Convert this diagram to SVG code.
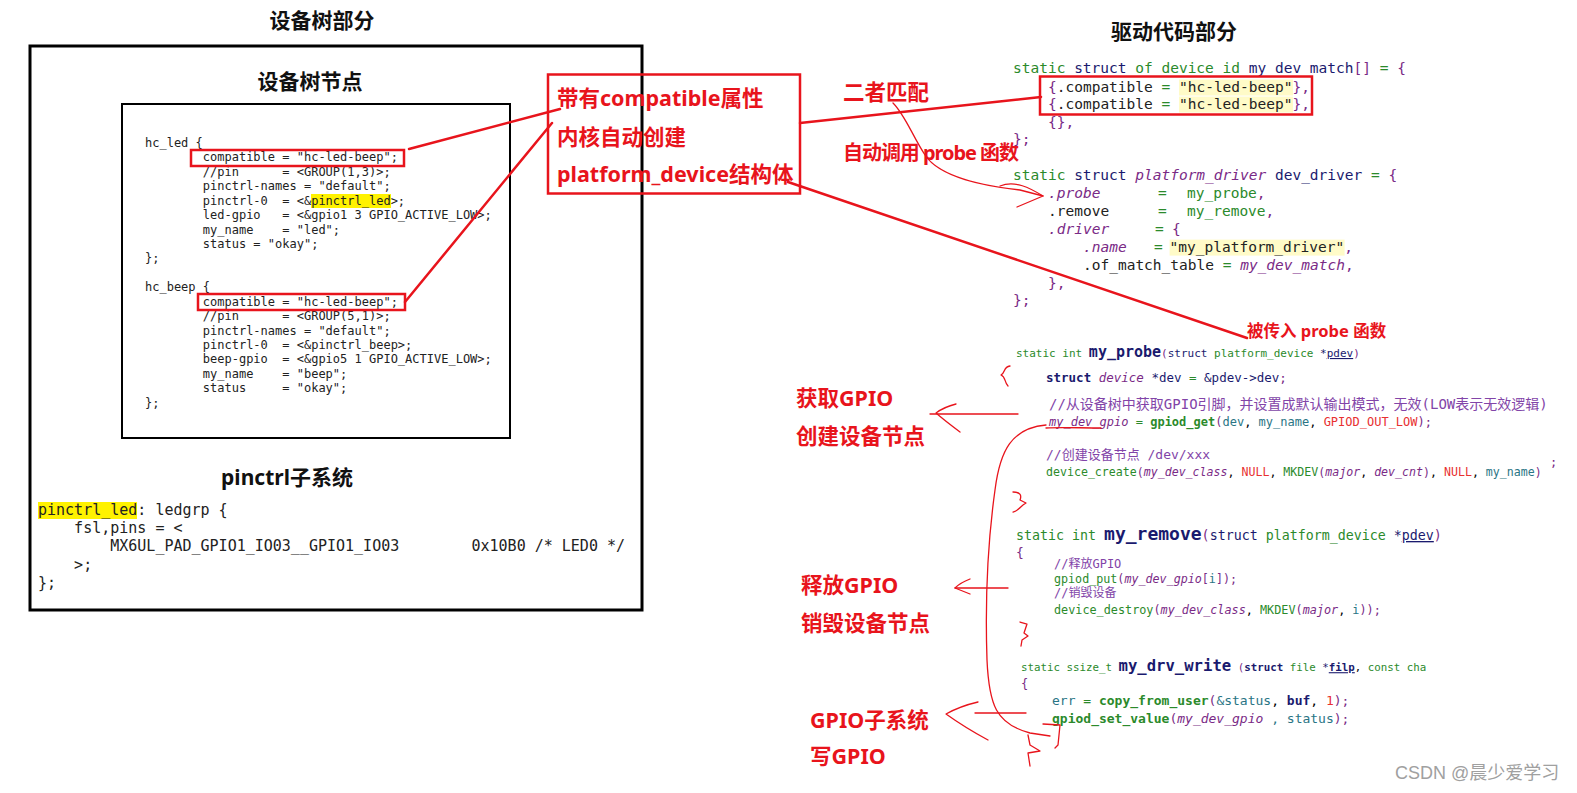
<svg xmlns="http://www.w3.org/2000/svg" width="1577" height="793" viewBox="0 0 1577 793">
<style>
.bg{fill:#fff}
.title{font-family:"Noto Sans","Noto Sans CJK SC",sans-serif;font-weight:bold;font-size:21px;fill:#111}
.lbl{font-family:"Noto Sans","Noto Sans CJK SC",sans-serif;font-weight:bold;font-size:21.5px;fill:#e8141c}
.mono{font-family:"DejaVu Sans Mono","Noto Sans CJK SC",monospace;white-space:pre}
.dt{font-size:12px;fill:#222}
.pc{font-size:15px;fill:#222}
.k{fill:#2b8a2b}
.n{fill:#1a1a6e}
.p{fill:#7a2a86}
.pi{fill:#7a2a86;font-style:italic}
.t{fill:#2a7585}
.r{fill:#e83030}
.c{fill:#8244a8}
.d{fill:#222}
.b{font-weight:bold}
.u{text-decoration:underline}
.box{fill:none;stroke:#000}
.rbox{fill:none;stroke:#e8141c;stroke-width:2.5}
.hl{fill:#fff200}
.hs{fill:#fffbc8}
.red{fill:none;stroke:#e8141c;stroke-width:2.5;stroke-linecap:round;stroke-linejoin:round}
.thin{fill:none;stroke:#e8141c;stroke-width:1.3;stroke-linecap:round;stroke-linejoin:round}
</style>
<rect class="bg" x="0" y="0" width="1577" height="793"/>

<g id="title-dt">
<text class="title" x="322" y="28" text-anchor="middle">设备树部分</text>
</g>

<g id="dt-outer">
<rect class="box" x="30" y="46" width="612" height="564" stroke-width="3"/>
<text class="title" x="310" y="88.5" text-anchor="middle">设备树节点</text>
</g>

<g id="dt-node">
<rect class="box" x="122" y="104" width="388" height="334" stroke-width="2"/>
<rect class="hl" x="311" y="194" width="80" height="14"/>
<text class="mono dt" x="145" y="147">hc_led {</text>
<text class="mono dt" x="145" y="161.4">        compatible = "hc-led-beep";</text>
<text class="mono dt" x="145" y="175.8">        //pin      = &lt;GROUP(1,3)&gt;;</text>
<text class="mono dt" x="145" y="190.3">        pinctrl-names = "default";</text>
<text class="mono dt" x="145" y="204.7">        pinctrl-0  = &lt;&amp;pinctrl_led&gt;;</text>
<text class="mono dt" x="145" y="219.1">        led-gpio   = &lt;&amp;gpio1 3 GPIO_ACTIVE_LOW&gt;;</text>
<text class="mono dt" x="145" y="233.5">        my_name    = "led";</text>
<text class="mono dt" x="145" y="247.9">        status = "okay";</text>
<text class="mono dt" x="145" y="262.4">};</text>
<text class="mono dt" x="145" y="291.2">hc_beep {</text>
<text class="mono dt" x="145" y="305.6">        compatible = "hc-led-beep";</text>
<text class="mono dt" x="145" y="320">        //pin      = &lt;GROUP(5,1)&gt;;</text>
<text class="mono dt" x="145" y="334.5">        pinctrl-names = "default";</text>
<text class="mono dt" x="145" y="348.9">        pinctrl-0  = &lt;&amp;pinctrl_beep&gt;;</text>
<text class="mono dt" x="145" y="363.3">        beep-gpio  = &lt;&amp;gpio5 1 GPIO_ACTIVE_LOW&gt;;</text>
<text class="mono dt" x="145" y="377.7">        my_name    = "beep";</text>
<text class="mono dt" x="145" y="392.1">        status     = "okay";</text>
<text class="mono dt" x="145" y="406.6">};</text>
<rect class="rbox" x="191" y="150" width="213" height="16" stroke-width="2"/>
<rect class="rbox" x="198" y="294" width="207" height="16" stroke-width="2"/>
</g>

<g id="pinctrl">
<text class="title" x="287" y="485" text-anchor="middle">pinctrl子系统</text>
<rect class="hl" x="38" y="502" width="99" height="17"/>
<text class="mono pc" x="38" y="515">pinctrl_led: ledgrp {</text>
<text class="mono pc" x="38" y="533">    fsl,pins = &lt;</text>
<text class="mono pc" x="38" y="551">        MX6UL_PAD_GPIO1_IO03__GPIO1_IO03        0x10B0 /* LED0 */</text>
<text class="mono pc" x="38" y="570">    &gt;;</text>
<text class="mono pc" x="38" y="588">};</text>
</g>

<g id="callout">
<rect class="rbox" x="548" y="74.5" width="252" height="119"/>
<text class="lbl" x="557" y="106">带有compatible属性</text>
<text class="lbl" x="557" y="144.5">内核自动创建</text>
<text class="lbl" x="557" y="181.6">platform_device结构体</text>
</g>

<g id="title-drv">
<text class="title" x="1111" y="39">驱动代码部分</text>
</g>

<g id="match-code" class="mono" font-size="14.5">
<rect class="hs" x="1179" y="79.5" width="114" height="16"/>
<rect class="hs" x="1179" y="96.6" width="114" height="16"/>
<text x="1013" y="73.4"><tspan class="k">static</tspan> <tspan class="n">struct</tspan> <tspan class="k">of device id</tspan> <tspan class="n">my dev match</tspan><tspan class="p">[]</tspan> <tspan class="k">=</tspan> <tspan class="p">{</tspan></text>
<text x="1048" y="91.5"><tspan class="p">{</tspan><tspan class="d">.compatible</tspan> <tspan class="k">=</tspan> <tspan class="d">"hc-led-beep"</tspan><tspan class="p">},</tspan></text>
<text x="1048" y="108.6"><tspan class="p">{</tspan><tspan class="d">.compatible</tspan> <tspan class="k">=</tspan> <tspan class="d">"hc-led-beep"</tspan><tspan class="p">},</tspan></text>
<text x="1048" y="126.8" class="p">{},</text>
<text x="1013" y="143.9" class="p">};</text>
<rect class="rbox" x="1040" y="76.5" width="272" height="38"/>
</g>

<g id="driver-code" class="mono" font-size="14.5">
<rect class="hs" x="1169.6" y="239.6" width="175" height="16"/>
<text x="1013" y="180"><tspan class="k">static</tspan> <tspan class="n">struct</tspan> <tspan class="pi">platform_driver</tspan> <tspan class="n">dev_driver</tspan> <tspan class="k">=</tspan> <tspan class="p">{</tspan></text>
<text y="198.2"><tspan x="1048" class="pi">.probe</tspan><tspan x="1158" class="k">=</tspan><tspan x="1187" class="k">my_probe</tspan><tspan class="p">,</tspan></text>
<text y="216.3"><tspan x="1048" class="d">.remove</tspan><tspan x="1158" class="k">=</tspan><tspan x="1187" class="k">my_remove</tspan><tspan class="p">,</tspan></text>
<text y="234.4"><tspan x="1048" class="pi">.driver</tspan><tspan x="1155" class="k">=</tspan><tspan x="1172" class="p">{</tspan></text>
<text y="251.6"><tspan x="1083" class="pi">.name</tspan><tspan x="1154" class="k">=</tspan><tspan x="1169.6" class="d">"my_platform_driver"</tspan><tspan class="p">,</tspan></text>
<text x="1083" y="269.7"><tspan class="d">.of_match_table</tspan> <tspan class="k">=</tspan> <tspan class="pi">my_dev_match</tspan><tspan class="p">,</tspan></text>
<text x="1048" y="287.8" class="p">},</text>
<text x="1013" y="304.9" class="p">};</text>
</g>

<g id="probe-code" class="mono">
<text x="1016" y="357" font-size="11"><tspan class="k">static int </tspan><tspan class="n b" font-size="15">my_probe</tspan><tspan class="p">(</tspan><tspan class="n">struct </tspan><tspan class="k">platform_device </tspan><tspan class="n">*</tspan><tspan class="n u">pdev</tspan><tspan class="p">)</tspan></text>
<text x="1046" y="382" font-size="12.5"><tspan class="n b">struct</tspan> <tspan class="pi">device</tspan> <tspan class="n">*dev</tspan> <tspan class="k">=</tspan> <tspan class="n">&amp;pdev-&gt;dev</tspan><tspan class="p">;</tspan></text>
<text x="1049" y="408.5" font-size="14" class="c">//从设备树中获取GPIO引脚，并设置成默认输出模式，无效(LOW表示无效逻辑)</text>
<text x="1049" y="425.6" font-size="12"><tspan class="pi">my_dev_gpio</tspan> <tspan class="k">=</tspan> <tspan class="k b">gpiod_get</tspan><tspan class="p">(</tspan><tspan class="t">dev</tspan>, <tspan class="t">my_name</tspan>, <tspan class="r">GPIOD_OUT_LOW</tspan><tspan class="p">);</tspan></text>
<text x="1046" y="458.7" font-size="13" class="c">//创建设备节点 /dev/xxx</text>
<text x="1046" y="476" font-size="11.6"><tspan class="k">device_create</tspan><tspan class="p">(</tspan><tspan class="pi">my_dev_class</tspan>, <tspan class="r">NULL</tspan>, <tspan class="k">MKDEV</tspan><tspan class="p">(</tspan><tspan class="pi">major</tspan>, <tspan class="pi">dev_cnt</tspan><tspan class="p">)</tspan>, <tspan class="r">NULL</tspan>, <tspan class="t">my_name</tspan><tspan class="p">)</tspan></text>
<text x="1550" y="466" font-size="12" class="p">;</text>
</g>

<g id="remove-code" class="mono">
<text x="1016" y="540" font-size="13.3"><tspan class="k">static int </tspan><tspan class="n b" font-size="18">my_remove</tspan><tspan class="p">(</tspan><tspan class="n">struct </tspan><tspan class="k">platform_device </tspan><tspan class="n">*</tspan><tspan class="n u">pdev</tspan><tspan class="p">)</tspan></text>
<text x="1016" y="556.5" font-size="13" class="p">{</text>
<text x="1054" y="567.5" font-size="12" class="c">//释放GPIO</text>
<text x="1054" y="582.6" font-size="11.7"><tspan class="k">gpiod_put</tspan><tspan class="p">(</tspan><tspan class="pi">my_dev_gpio</tspan><tspan class="p">[</tspan><tspan class="t">i</tspan><tspan class="p">]);</tspan></text>
<text x="1054" y="596.7" font-size="12" class="c">//销毁设备</text>
<text x="1054" y="613.8" font-size="11.8"><tspan class="k">device_destroy</tspan><tspan class="p">(</tspan><tspan class="pi">my_dev_class</tspan>, <tspan class="k">MKDEV</tspan><tspan class="p">(</tspan><tspan class="pi">major</tspan>, <tspan class="t">i</tspan><tspan class="p">));</tspan></text>
</g>

<g id="write-code" class="mono">
<text x="1021" y="671.2" font-size="10.8"><tspan class="k">static ssize_t </tspan><tspan class="n b" font-size="15.6">my_drv_write</tspan> <tspan class="p">(</tspan><tspan class="n b">struct </tspan><tspan class="k">file </tspan><tspan class="n">*</tspan><tspan class="n b u">filp</tspan>, <tspan class="k">const cha</tspan></text>
<text x="1021" y="688.3" font-size="12" class="p">{</text>
<text x="1052" y="705.4" font-size="13"><tspan class="t">err</tspan> <tspan class="k">=</tspan> <tspan class="k b">copy_from_user</tspan><tspan class="p">(</tspan><tspan class="t">&amp;status</tspan>, <tspan class="n b">buf</tspan>, <tspan class="r">1</tspan><tspan class="p">);</tspan></text>
<text x="1052" y="722.5" font-size="13"><tspan class="k b">gpiod_set_value</tspan><tspan class="p">(</tspan><tspan class="pi">my_dev_gpio</tspan> <tspan class="t">, status</tspan><tspan class="p">);</tspan></text>
</g>

<g id="labels">
<text class="lbl" x="843" y="99.5">二者匹配</text>
<text class="lbl" x="843" y="159.5" style="font-size:20px" textLength="176" lengthAdjust="spacing">自动调用 probe 函数</text>
<text class="lbl" x="1247" y="337" style="font-size:16.5px">被传入 probe 函数</text>
<text class="lbl" x="796" y="405.5">获取GPIO</text>
<text class="lbl" x="796" y="443.8">创建设备节点</text>
<text class="lbl" x="801" y="592.7">释放GPIO</text>
<text class="lbl" x="801" y="631">销毁设备节点</text>
<text class="lbl" x="810" y="727.5">GPIO子系统</text>
<text class="lbl" x="810" y="763.8">写GPIO</text>
</g>

<g id="connectors">
<line class="red" x1="409" y1="149" x2="560" y2="109"/>
<line class="red" x1="405" y1="302" x2="552" y2="123"/>
<line class="red" x1="800" y1="123" x2="1041" y2="97"/>
<line class="red" x1="788" y1="182" x2="1247" y2="338"/>
<path class="thin" d="M893,103 C905,115 912,135 925,155 C940,178 985,186 1020,190 L1043,196 L1017,207"/>
<path class="thin" d="M1000,186 C1015,180 1030,188 1043,196"/>
<path class="thin" d="M1010,366 C1003,367 1006,372 1001,375 C1006,377 1004,382 1008,386"/>
<path class="thin" d="M1046,428 C1060,427 1080,428 1101,428" stroke-width="2"/>
<path class="thin" d="M930,414 L1018,414"/>
<path class="thin" d="M956,404 C948,406 940,410 936,413 C944,420 952,426 960,432"/>
<path class="thin" d="M1013,492 C1020,492 1022,495 1020,500 L1026,503 C1020,506 1020,510 1013,512"/>
<path class="thin" d="M955,588 L1008,588"/>
<path class="thin" d="M970,579 C962,582 958,585 955,588 C960,590 965,592 970,594"/>
<path class="thin" d="M1020,622 L1027,624 L1024,633 L1028,636 L1022,640 L1021,646"/>
<path class="thin" d="M975,713 L1026,713"/>
<path class="thin" d="M978,702 C965,705 955,709 946,714 C960,724 975,733 988,740"/>
<path class="thin" d="M1046,425 C1012,428 1000,450 995,490 C988,540 985,600 987,660 C989,705 996,724 1030,733 L1050,736"/>
<path class="thin" d="M1043,724 L1060,725 L1058,745 L1055,748"/>
<path class="thin" d="M1028,735 L1030,745 L1040,751 L1028,753 L1030,766"/>
</g>

<g id="watermark">
<text x="1395" y="779" font-family="'Liberation Sans','Noto Sans CJK SC',sans-serif" font-size="18" fill="#a0a0a0">CSDN @晨少爱学习</text>
</g>
</svg>
